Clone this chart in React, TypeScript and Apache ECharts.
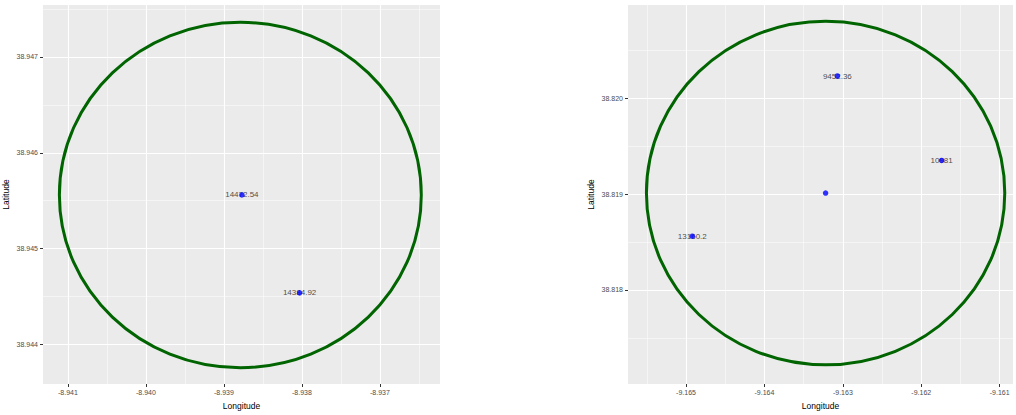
import React, { useEffect, useRef } from "react";
import * as echarts from "echarts";

// Left panel
const leftXRange = [-8.94132, -8.93623];
const leftYRange = [38.94359, 38.94754];
const leftXTicks = [-8.941, -8.94, -8.939, -8.938, -8.937];
const leftYTicks = [38.944, 38.945, 38.946, 38.947];
const leftCircle = [-8.93879, 38.94556, 0.00232, 0.0018]; // centre lon, centre lat, radius lon, radius lat
const leftPointLon = [-8.93877, -8.93803];
const leftPointLat = [38.94556, 38.94454];
const leftPointLabels = ["14472.54", "14384.92"];

// Right panel
const rightXRange = [-9.16574, -9.16083];
const rightYRange = [38.81702, 38.82097];
const rightXTicks = [-9.165, -9.164, -9.163, -9.162, -9.161];
const rightYTicks = [38.818, 38.819, 38.82];
const rightCircle = [-9.16322, 38.81901, 0.002285, 0.00179];
const rightPointLon = [-9.16307, -9.16174, -9.16492, -9.16322];
const rightPointLat = [38.82023, 38.81935, 38.81856, 38.81901];
const rightPointLabels = ["9452.36", "10981", "13160.2", ""];

const tickColor = "#4D4D4D";
const font = "Liberation Sans, Arial, sans-serif";

function axis(type: "x" | "y", idx: number, range: number[], ticks: number[]) {
  const isX = type === "x";
  return {
    type: "value",
    gridIndex: idx,
    min: range[0],
    max: range[1],
    name: isX ? "Longitude" : "Latitude",
    nameLocation: "middle",
    nameGap: isX ? 17 : 33,
    nameTextStyle: { color: "#000", fontSize: 8.5, fontFamily: font },
    axisLine: { show: false },
    axisTick: {
      show: true,
      length: 3,
      lineStyle: { color: "#333", width: 1 },
      customValues: ticks,
    },
    axisLabel: {
      show: true,
      customValues: ticks,
      margin: 5,
      color: tickColor,
      fontSize: 7,
      fontFamily: font,
      formatter: (v: number) => v.toFixed(3),
    },
    splitLine: { show: true, lineStyle: { color: "#FFFFFF", width: 1.1 } },
    minorTick: { show: false, splitNumber: 2 },
    minorSplitLine: { show: true, lineStyle: { color: "#FFFFFF", width: 0.5 } },
  };
}

function circleSeries(idx: number, c: number[]) {
  return {
    type: "custom",
    xAxisIndex: idx,
    yAxisIndex: idx,
    data: [c],
    silent: true,
    z: 2,
    renderItem: (params: any, api: any) => {
      const p = api.coord([api.value(0), api.value(1)]);
      const s = api.size([api.value(2), api.value(3)]);
      return {
        type: "ellipse",
        shape: { cx: p[0], cy: p[1], rx: s[0], ry: s[1] },
        style: { fill: "none", stroke: "#006400", lineWidth: 3 },
      };
    },
  };
}

function labelSeries(idx: number, lon: number[], lat: number[], labels: string[]) {
  return {
    type: "scatter",
    xAxisIndex: idx,
    yAxisIndex: idx,
    symbol: "circle",
    symbolSize: 1,
    itemStyle: { color: "rgba(0,0,0,0)" },
    z: 3,
    silent: true,
    data: lon.map((x, i) => ({ value: [x, lat[i]], name: labels[i] })),
    label: {
      show: true,
      position: "inside",
      formatter: (p: any) => p.name,
      color: "#1A1A1A",
      fontSize: 8,
      fontFamily: font,
    },
  };
}

function pointSeries(idx: number, lon: number[], lat: number[]) {
  return {
    type: "scatter",
    xAxisIndex: idx,
    yAxisIndex: idx,
    symbol: "circle",
    symbolSize: 5.5,
    itemStyle: { color: "#0000FF" },
    z: 4,
    data: lon.map((x, i) => [x, lat[i]]),
  };
}

export default function App() {
  const ref = useRef<HTMLDivElement>(null);
  useEffect(() => {
    if (!ref.current) return;
    const chart = echarts.init(ref.current, null, { renderer: "svg" });
    chart.setOption({
      animation: false,
      backgroundColor: "#FFFFFF",
      grid: [
        { left: 43, top: 5, width: 397, height: 383, show: true, backgroundColor: "#EBEBEB", borderWidth: 0 },
        { left: 628, top: 5, width: 385, height: 383, show: true, backgroundColor: "#EBEBEB", borderWidth: 0 },
      ],
      xAxis: [axis("x", 0, leftXRange, leftXTicks), axis("x", 1, rightXRange, rightXTicks)],
      yAxis: [axis("y", 0, leftYRange, leftYTicks), axis("y", 1, rightYRange, rightYTicks)],
      series: [
        circleSeries(0, leftCircle),
        labelSeries(0, leftPointLon, leftPointLat, leftPointLabels),
        pointSeries(0, leftPointLon, leftPointLat),
        circleSeries(1, rightCircle),
        labelSeries(1, rightPointLon, rightPointLat, rightPointLabels),
        pointSeries(1, rightPointLon, rightPointLat),
      ],
    });
    return () => chart.dispose();
  }, []);
  return (
    <div
      ref={ref}
      style={{ position: "absolute", left: 0, top: 0, width: 1016, height: 415 }}
    />
  );
}
